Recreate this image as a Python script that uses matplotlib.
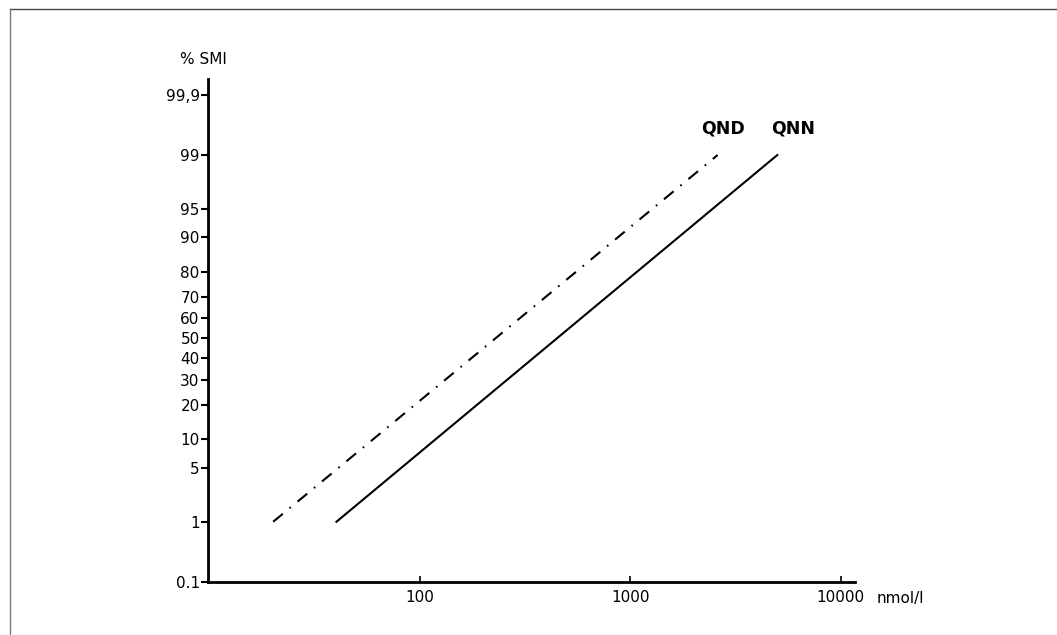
import numpy as np
import matplotlib
matplotlib.use("Agg")
import matplotlib.pyplot as plt
from matplotlib.lines import Line2D
from statistics import NormalDist

# data (concentration nmol/l vs % SMI)
qnd_conc = [20, 2600]
qnd_pct = [1, 99]
qnn_conc = [40, 5000]
qnn_pct = [1, 99]

y_ticks = [0.1, 1, 5, 10, 20, 30, 40, 50, 60, 70, 80, 90, 95, 99, 99.9]
y_labels = ['0.1', '1', '5', '10', '20', '30', '40', '50', '60', '70', '80', '90', '95', '99', '99,9']
x_ticks = [100, 1000, 10000]
x_labels = ['100', '1000', '10000']

_nd = NormalDist()
_ppf = np.vectorize(lambda p: _nd.inv_cdf(p), otypes=[float])
_cdf = np.vectorize(lambda z: _nd.cdf(z), otypes=[float])


def probit(p):
    p = np.clip(np.asarray(p, dtype=float) / 100.0, 1e-9, 1 - 1e-9)
    return _ppf(p)


def inv_probit(z):
    return _cdf(np.asarray(z, dtype=float)) * 100.0


fig = plt.figure(figsize=(10.57, 6.35), dpi=100)
ax = fig.add_axes([0.1968, 0.0835, 0.612, 0.792])

ax.plot(qnd_conc, qnd_pct, color='black', lw=1.5, linestyle=(0, (6, 4.2, 0.8, 4.2)))
ax.plot(qnn_conc, qnn_pct, color='black', lw=1.5)

ax.set_xscale('log')
ax.set_yscale('function', functions=(probit, inv_probit))
ax.set_xlim(9.8, 11700)
ax.set_ylim(0.1, 99.95)

ax.set_yticks(y_ticks)
ax.set_yticklabels(y_labels)
ax.yaxis.set_minor_locator(matplotlib.ticker.NullLocator())
ax.set_xticks(x_ticks)
ax.set_xticklabels(x_labels)
ax.xaxis.set_minor_locator(matplotlib.ticker.NullLocator())

ax.tick_params(axis='y', direction='out', length=5, width=1.5, pad=1, labelsize=11)
ax.tick_params(axis='x', direction='in', length=4, width=1.2, pad=6, labelsize=11)

for side in ['top', 'right']:
    ax.spines[side].set_visible(False)
for side in ['left', 'bottom']:
    ax.spines[side].set_linewidth(2)

ax.text(2770, 99.62, 'QND', ha='center', va='center', fontsize=12.5, fontweight='bold')
ax.text(5980, 99.62, 'QNN', ha='center', va='center', fontsize=12.5, fontweight='bold')

fig.text(203 / 1057, 1 - 60 / 635, '% SMI', ha='center', va='center', fontsize=11)
fig.text(877 / 1057, 1 - 599 / 635, 'nmol/l', ha='left', va='center', fontsize=11)

# scan border at top and left
fig.add_artist(Line2D([10 / 1057, 1], [1 - 9 / 635] * 2, color='#444444', lw=1))
fig.add_artist(Line2D([10 / 1057] * 2, [0, 1 - 9 / 635], color='#777777', lw=1))

fig.savefig('out.png', dpi=100)
